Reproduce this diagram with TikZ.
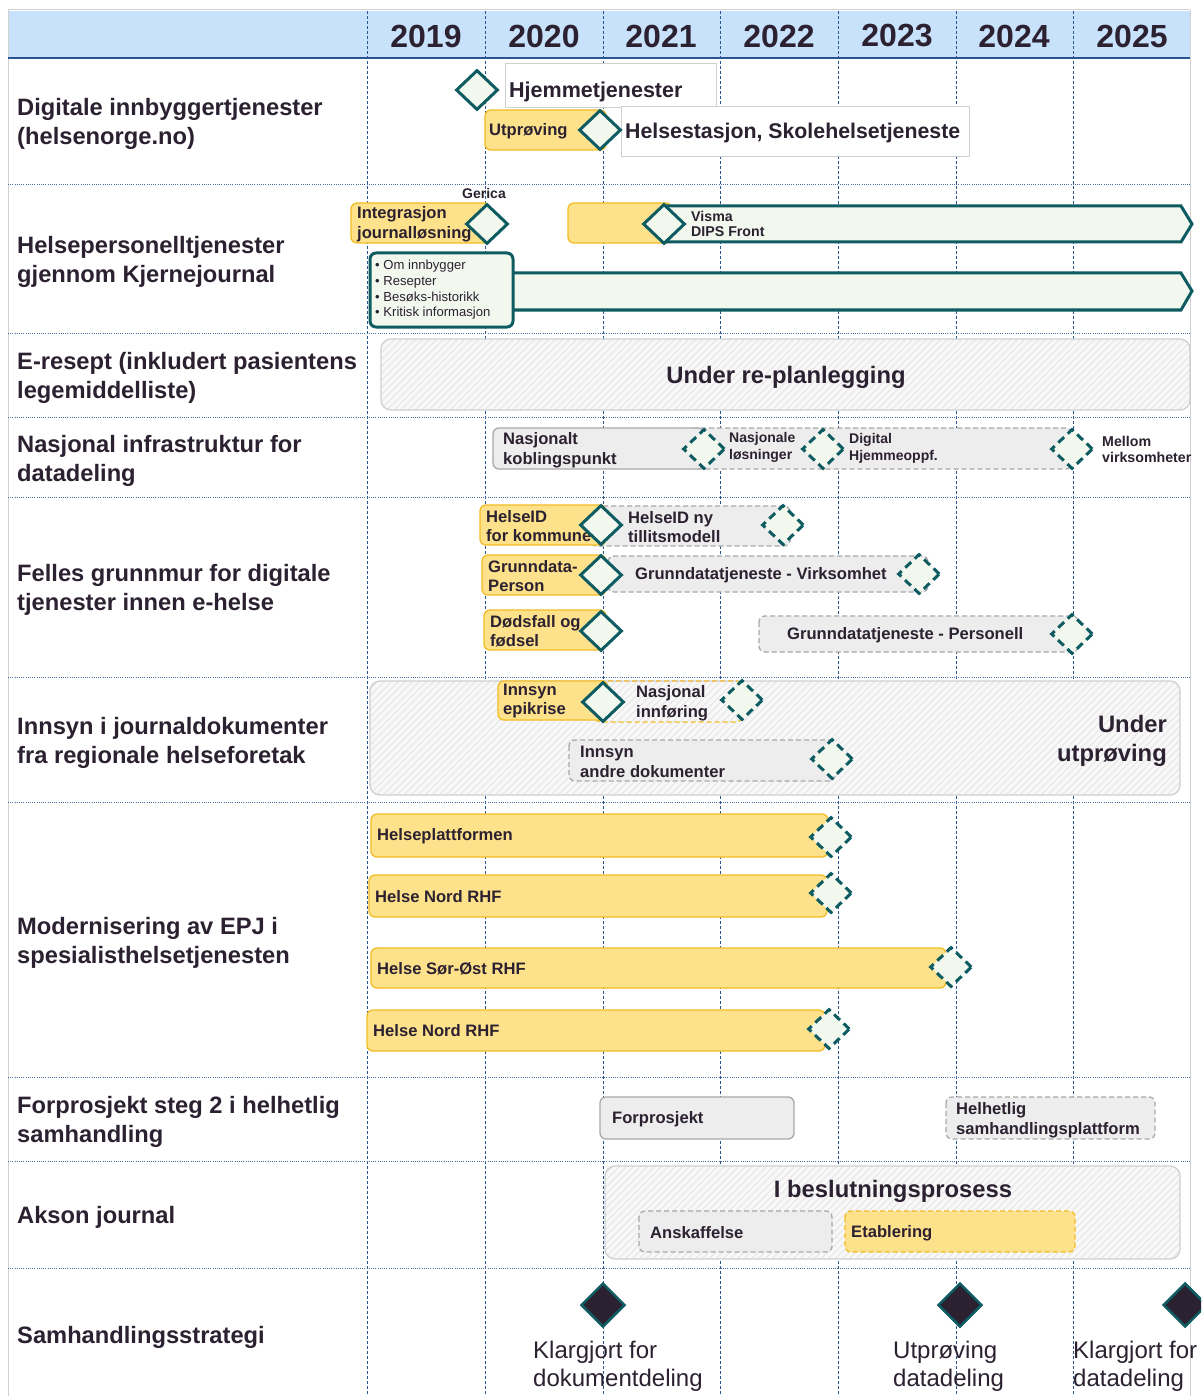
\documentclass[tikz,border=0pt]{standalone}
\usepackage{fontspec}
\setmainfont{Liberation Sans}
\usetikzlibrary{shapes.geometric}
\definecolor{ink}{HTML}{2B2130}
\definecolor{hdr}{HTML}{C9E2FC}
\definecolor{gridc}{HTML}{2A558F}
\definecolor{ylw}{HTML}{FEE28B}
\definecolor{ylwd}{HTML}{F2BC24}
\definecolor{tl}{HTML}{0E5C62}
\definecolor{lgr}{HTML}{F2F8EE}
\definecolor{gry}{HTML}{EDEDED}
\definecolor{gryd}{HTML}{A8A8A8}
\definecolor{hatchc}{HTML}{E4E4E4}
\definecolor{hatchbg}{HTML}{F8F8F8}
\definecolor{bord}{HTML}{D0D0D0}
\newcommand\fsz[2]{\fontsize{#1}{#2}\selectfont}
\newcommand\hatchbox[4]{%
\begin{scope}
\clip[rounded corners=10] (#1,#2) rectangle (#3,#4);
\fill[hatchbg] (#1,#2) rectangle (#3,#4);
\foreach \k in {0,7,...,1000} \draw[hatchc, line width=0.9] (#1-120+\k,#4) -- (#1-120+\k+#4-#2,#2);
\end{scope}
\draw[bord, line width=1.3, rounded corners=10] (#1,#2) rectangle (#3,#4);}
\begin{document}
\begin{tikzpicture}[x=1pt,y=-1pt,
  rowlbl/.style={anchor=west, align=left, inner sep=0, text=ink, font=\bfseries\fsz{23.7}{28.5}},
  yr/.style={inner sep=0, text=ink, font=\bfseries\fsz{32}{36}},
  bt/.style={anchor=west, align=left, inner sep=0, text=ink, font=\bfseries\fsz{16.6}{19.5}},
  st/.style={anchor=west, align=left, inner sep=0, text=ink, font=\bfseries\fsz{14.2}{16}},
  bigt/.style={inner sep=0, text=ink, font=\bfseries\fsz{23.8}{29}},
  mt/.style={anchor=west, align=left, inner sep=0, text=ink, font=\fsz{24}{28}},
  ybar/.style={fill=ylw, draw=ylwd, line width=1.3, rounded corners=6},
  ydash/.style={draw=ylwd, line width=1.3, rounded corners=6, dash pattern=on 5pt off 3pt},
  gbar/.style={fill=gry, draw=gryd, line width=1.3, rounded corners=6},
  gdash/.style={fill=gry, draw=gryd, line width=1.3, rounded corners=6, dash pattern=on 5pt off 3pt},
  wbox/.style={fill=white, draw=bord, line width=1},
  abar/.style={fill=lgr, draw=tl, line width=3, line join=miter},
  msd/.style={diamond, minimum width=42, minimum height=40, inner sep=0, fill=lgr, draw=tl, line width=3},
  msdd/.style={msd, dash pattern=on 8pt off 5pt},
  msb/.style={diamond, minimum width=44, minimum height=44, inner sep=0, fill=ink, draw=tl, line width=2.5},
  vgrid/.style={gridc, line width=0.9, dash pattern=on 3pt off 2pt},
  hgrid/.style={gridc!85!white, line width=0.9, dash pattern=on 1pt off 1.2pt}]
\clip (0,0) rectangle (1201,1396);
\fill[white] (0,0) rectangle (1201,1396);
% header
\fill[hdr] (8,11) rectangle (1190,58);
\draw[bord, line width=1] (8,10) -- (1190,10);
\draw[bord, line width=1] (8,10) -- (8,1396);
\draw[bord, line width=1] (1190,10) -- (1190,1396);
% grid
\foreach \x in {367,485,603,720,838,956,1073} \draw[vgrid] (\x,11) -- (\x,1396);
\foreach \y in {184,333,417,497,677,802,1077,1161,1268} \draw[hgrid] (8,\y) -- (1190,\y);
\draw[gridc, line width=1.5] (8,58) -- (1190,58);
% years
\node[yr] (y19) at (426,36) {2019};
\node[yr] (y20) at (544,36) {2020};
\node[yr] (y21) at (661,36) {2021};
\node[yr] (y22) at (779,36) {2022};
\node[yr] (y23) at (897,36) {2023};
\node[yr] (y24) at (1014,36) {2024};
\node[yr] (y25) at (1132,36) {2025};
% row labels
\node[rowlbl] (r1) at (17,124) {Digitale innbyggertjenester\\(helsenorge.no)};
\node[rowlbl] (r2) at (17,262) {Helsepersonelltjenester\\gjennom Kjernejournal};
\node[rowlbl] (r3) at (17,378) {E-resept (inkludert pasientens\\legemiddelliste)};
\node[rowlbl] (r4) at (17,461) {Nasjonal infrastruktur for\\datadeling};
\node[rowlbl] (r5) at (17,590) {Felles grunnmur for digitale\\tjenester innen e-helse};
\node[rowlbl] (r6) at (17,743) {Innsyn i journaldokumenter\\fra regionale helseforetak};
\node[rowlbl] (r7) at (17,943) {Modernisering av EPJ i\\spesialisthelsetjenesten};
\node[rowlbl] (r8) at (17,1122) {Forprosjekt steg 2 i helhetlig\\samhandling};
\node[rowlbl] (r9) at (17,1217) {Akson journal};
\node[rowlbl] (r10) at (17,1337) {Samhandlingsstrategi};
% ---- row 1
\draw[wbox] (505,64) rectangle (716,108);
\node[anchor=west, inner sep=0, text=ink, font=\bfseries\fsz{21.5}{24}] (hj) at (509,92) {Hjemmetjenester};
\draw[ybar] (485,110) rectangle (606,150);
\node[bt] (ut) at (489,131) {Utprøving};
\draw[wbox] (621,107) rectangle (969,157);
\node[anchor=west, inner sep=0, text=ink, font=\bfseries\fsz{21.3}{24}] (hs) at (625,133) {Helsestasjon, Skolehelsetjeneste};
\node[msd] (m11) at (477,90) {};
\node[msd] (m12) at (600,130) {};
% ---- row 2
\node[inner sep=0, text=ink, font=\bfseries\fsz{14}{16}] (ger) at (484,193) {Gerica};
\draw[ybar] (351,203) rectangle (490,243);
\node[bt, font=\bfseries\fsz{16.6}{20}] (ij) at (357,224) {Integrasjon\\journalløsning};
\node[msd] (m21) at (487,224) {};
\draw[ybar] (568,203) rectangle (672,243);
\draw[abar] (664,206) -- (1181,206) -- (1192,224) -- (1181,242) -- (664,242) -- cycle;
\node[msd] (m22) at (664,224) {};
\node[st, font=\bfseries\fsz{14.2}{15}] (vd) at (691,224) {Visma\\DIPS Front};
\draw[abar] (505,273) -- (1181,273) -- (1192,291) -- (1181,310) -- (505,310) -- cycle;
\draw[fill=lgr, draw=tl, line width=3, rounded corners=6] (370,253) rectangle (513,327);
\node[anchor=west, align=left, inner sep=0, text=ink, font=\fsz{13.1}{15.7}] (bl) at (375,290) {• Om innbygger\\• Resepter\\• Besøks-historikk\\• Kritisk informasjon};
% ---- row 3
\hatchbox{381}{339}{1190}{410}
\node[bigt] (rp) at (786,377) {Under re-planlegging};
% ---- row 4
\draw[gdash] (690,428) rectangle (1072,469);
\draw[gbar] (493,428) rectangle (704,469);
\node[bt, font=\bfseries\fsz{16.6}{20}] (nk) at (503,450) {Nasjonalt\\koblingspunkt};
\node[st, font=\bfseries\fsz{14}{17}] (nl) at (729,447) {Nasjonale\\løsninger};
\node[st, font=\bfseries\fsz{14}{17}] (dh) at (849,448) {Digital\\Hjemmeoppf.};
\node[st] (mv) at (1102,449) {Mellom\\virksomheter};
\node[msdd] (m41) at (704,449) {};
\node[msdd] (m42) at (823,449) {};
\node[msdd] (m43) at (1072,449) {};
% ---- row 5
\draw[gdash] (590,506) rectangle (790,546);
\draw[ybar] (480,505) rectangle (606,545);
\node[bt] (hid) at (486,526) {HelseID\\for kommune};
\node[bt] (hny) at (628,527) {HelseID ny\\tillitsmodell};
\node[msd] (m51) at (601,525) {};
\node[msdd] (m52) at (783,525) {};
\draw[gdash] (608,556) rectangle (928,592);
\draw[ybar] (482,555) rectangle (606,595);
\node[bt] (gdp) at (488,576) {Grunndata-\\Person};
\node[bt] (gdv) at (635,575) {Grunndatatjeneste - Virksomhet};
\node[msd] (m53) at (601,575) {};
\node[msdd] (m54) at (919,574) {};
\draw[ybar] (484,610) rectangle (606,650);
\node[bt] (dof) at (490,631) {Dødsfall og\\fødsel};
\node[msd] (m55) at (601,631) {};
\draw[gdash] (759,616) rectangle (1078,652);
\node[bt] (gdpe) at (787,635) {Grunndatatjeneste - Personell};
\node[msdd] (m56) at (1072,634) {};
% ---- row 6
\hatchbox{370}{681}{1180}{795}
\node[bigt, anchor=east, align=right] (uu) at (1167,741) {Under\\utprøving};
\draw[ydash] (595,681) rectangle (742,722);
\draw[ybar] (498,681) rectangle (608,720);
\node[bt] (ie) at (503,701) {Innsyn\\epikrise};
\node[bt] (ni) at (636,703) {Nasjonal\\innføring};
\node[msd] (m61) at (603,702) {};
\node[msdd] (m62) at (742,700) {};
\draw[gdash] (569,740) rectangle (835,781);
\node[bt] (iad) at (580,762) {Innsyn\\andre dokumenter};
\node[msdd] (m63) at (832,759) {};
% ---- row 7
\draw[ybar] (371,814) rectangle (828,857);
\node[bt] (hp) at (377,836) {Helseplattformen};
\node[msdd] (m71) at (831,837) {};
\draw[ybar] (369,875) rectangle (827,917);
\node[bt] (hn1) at (375,897) {Helse Nord RHF};
\node[msdd] (m72) at (831,893) {};
\draw[ybar] (371,948) rectangle (946,988);
\node[bt] (hso) at (377,969) {Helse Sør-Øst RHF};
\node[msdd] (m73) at (951,967) {};
\draw[ybar] (367,1010) rectangle (825,1051);
\node[bt] (hn2) at (373,1031) {Helse Nord RHF};
\node[msdd] (m74) at (829,1029) {};
% ---- row 8
\draw[gbar] (600,1097) rectangle (794,1139);
\node[bt] (fp) at (612,1119) {Forprosjekt};
\draw[gdash] (946,1097) rectangle (1155,1139);
\node[bt] (hsp) at (956,1120) {Helhetlig\\samhandlingsplattform};
% ---- row 9
\hatchbox{605}{1166}{1180}{1259}
\node[bigt] (ib) at (893,1191) {I beslutningsprosess};
\draw[gdash] (639,1211) rectangle (832,1252);
\node[bt] (ans) at (650,1233) {Anskaffelse};
\draw[ybar, dash pattern=on 5pt off 3pt] (845,1211) rectangle (1075,1252);
\node[bt] (eta) at (851,1233) {Etablering};
% ---- row 10
\node[msb] (s1) at (603,1305) {};
\node[msb] (s2) at (960,1305) {};
\node[msb] (s3) at (1185,1305) {};
\node[mt] (k1) at (533,1366) {Klargjort for\\dokumentdeling};
\node[mt] (k2) at (893,1366) {Utprøving\\datadeling};
\node[mt] (k3) at (1073,1366) {Klargjort for\\datadeling};
\end{tikzpicture}
\end{document}
